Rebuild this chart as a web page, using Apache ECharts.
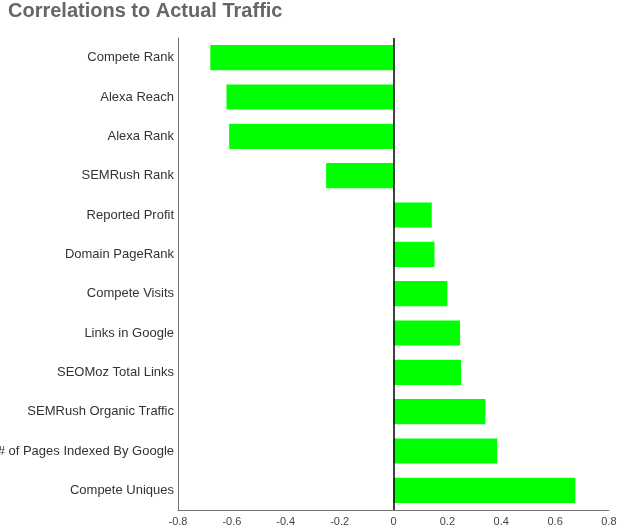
<!DOCTYPE html>
<html><head><meta charset="utf-8">
<script src="https://cdn.jsdelivr.net/npm/echarts@6/dist/echarts.min.js"></script>
<style>html,body{margin:0;padding:0;background:#fff}#c{width:619px;height:528px}</style>
</head><body><div id="c"></div>
<script>
const categories = ["Compete Rank","Alexa Reach","Alexa Rank","SEMRush Rank","Reported Profit","Domain PageRank","Compete Visits","Links in Google","SEOMoz Total Links","SEMRush Organic Traffic","# of Pages Indexed By Google","Compete Uniques"];
const values = [-0.68,-0.62,-0.61,-0.25,0.142,0.152,0.20,0.247,0.251,0.341,0.385,0.675];
const xTicks = [-0.8,-0.6,-0.4,-0.2,0,0.2,0.4,0.6,0.8];

const chart = echarts.init(document.getElementById('c'));
chart.setOption({
  animation:false,
  title:{text:'Correlations to Actual Traffic',left:3,top:-4,textStyle:{fontFamily:'Liberation Sans, Arial',fontSize:20,fontWeight:'bold',color:'#666'}},
  grid:{left:178,right:10,top:38,bottom:18,containLabel:false,outerBoundsMode:'none'},
  xAxis:{type:'value',min:-0.8,max:0.8,interval:0.2,
    axisLine:{show:true,lineStyle:{color:'#777'}},axisTick:{show:false},splitLine:{show:false},
    axisLabel:{color:'#444',fontSize:11,fontFamily:'Liberation Sans, Arial',margin:6,
      formatter:v=>{const t=xTicks.find(x=>Math.abs(x-v)<1e-9);return t===undefined?'':String(t);}}},
  yAxis:{type:'category',data:categories,inverse:true,
    axisLine:{show:true,onZero:false,lineStyle:{color:'#777'}},axisTick:{show:false},
    axisLabel:{color:'#333',fontSize:13,fontFamily:'Liberation Sans, Arial',margin:4}},
  series:[{type:'bar',data:values,barWidth:'64%',itemStyle:{color:'#00ff00'},
    markLine:{silent:true,symbol:'none',label:{show:false},lineStyle:{color:'#000',width:1.5,type:'solid'},data:[{xAxis:0}]}}]
});
</script></body></html>
